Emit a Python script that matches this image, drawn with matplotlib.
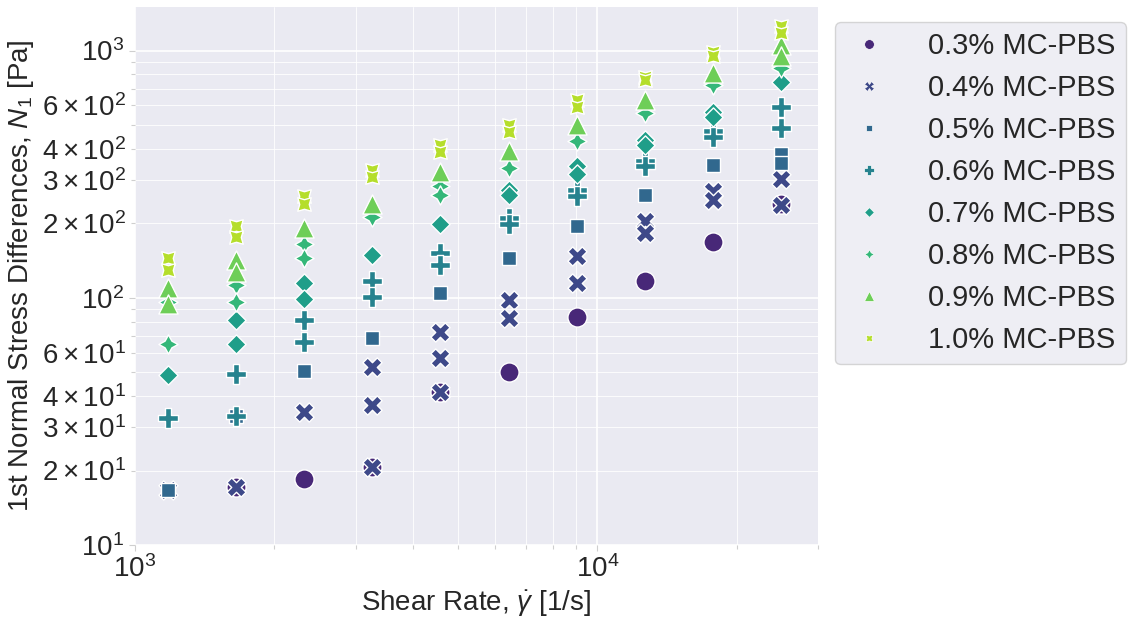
import numpy as np
import matplotlib
matplotlib.use("Agg")
import matplotlib.pyplot as plt
import matplotlib.ticker as mticker
from matplotlib.lines import Line2D
import seaborn as sns

# shear rates of the sweep [1/s]
shear_rate = [1180, 1655, 2320, 3255, 4570, 6430, 9020, 12700, 17800, 24900]

# N1 [Pa], one small list per shear rate (replicates)
n1_03 = [[], [17.2], [18.5], [20.6], [41.4], [49.9], [83.5], [117], [168], [240]]
n1_04 = [[16.7], [17.2], [34.5], [52.5, 36.8, 20.6], [72.8, 56.9, 41.4],
         [97.8, 83], [147, 115], [204, 182], [270, 249], [303, 238]]
n1_05 = [[16.7], [33.2], [50.5], [68.5], [105], [145], [194.5], [261], [345], [380, 350]]
n1_06 = [[32.6], [49.1, 33.2], [81.6, 66.4], [117, 101], [152, 136],
         [211, 198], [274, 257], [357, 340], [471, 448], [592, 487]]
n1_07 = [[48.7], [81.6, 64.9], [115, 98.4], [148.6], [199.6],
         [274, 261], [340, 318], [434, 413], [564, 537], [745]]
n1_08 = [[96, 64.9], [113, 96], [165, 145], [213], [283, 261],
         [334], [430], [558], [722], [849]]
n1_09 = [[110, 94.6], [142.6, 127], [191], [240], [323],
         [393], [502], [632], [809], [1050, 953]]
n1_10 = [[145, 129], [194.5, 176], [257, 240], [328, 307], [413, 387],
         [500, 470], [632, 592], [780, 760], [984, 953], [1259, 1179]]

labels = ["0.3% MC-PBS", "0.4% MC-PBS", "0.5% MC-PBS", "0.6% MC-PBS",
          "0.7% MC-PBS", "0.8% MC-PBS", "0.9% MC-PBS", "1.0% MC-PBS"]
series = [n1_03, n1_04, n1_05, n1_06, n1_07, n1_08, n1_09, n1_10]

sns.set_style("darkgrid")
plt.rcParams["font.family"] = ["Liberation Sans", "DejaVu Sans"]
plt.rcParams["mathtext.fontset"] = "custom"
plt.rcParams["mathtext.rm"] = "Liberation Sans"
plt.rcParams["mathtext.it"] = "Liberation Sans:italic"
plt.rcParams["mathtext.bf"] = "Liberation Sans:bold"

# seaborn default marker cycle
markers = ["o", "X", (4, 0, 45), "P", (4, 0, 0), (4, 1, 0), "^", (4, 1, 45)]
colors = plt.cm.viridis(np.linspace(0, 1, len(labels) + 2)[1:-1])

fig = plt.figure(figsize=(11.33, 6.33), dpi=100)
ax = fig.add_axes([0.119, 0.139, 0.603, 0.850])

for vals, lab, mk, col in zip(series, labels, markers, colors):
    xs, ys = [], []
    for rate, reps in zip(shear_rate, vals):
        for v in reps:
            xs.append(rate)
            ys.append(v)
    ax.scatter(xs, ys, s=190, marker=mk, color=col, edgecolor="white",
               linewidth=1.0, label=lab, zorder=3)

ax.set_xscale("log")
ax.set_yscale("log")
ax.set_xlim(1000, 30000)
ax.set_ylim(10, 1500)

ax.yaxis.set_minor_formatter(
    mticker.LogFormatterSciNotation(labelOnlyBase=False, minor_thresholds=(3, 0.4)))
ax.xaxis.set_minor_formatter(mticker.NullFormatter())

ax.grid(which="major", color="white", linewidth=1.2)
ax.grid(which="minor", color="white", linewidth=0.6)
ax.tick_params(which="both", labelsize=20, color="#cfcfcf", width=0.8,
               bottom=True, left=True)
ax.tick_params(which="major", length=4)
ax.tick_params(which="minor", length=3)
for sp in ax.spines.values():
    sp.set_visible(False)

ax.set_xlabel(r"Shear Rate, $\dot{\gamma}$ [1/s]", fontsize=20)
ax.set_ylabel(r"1st Normal Stress Differences, $N_1$ [Pa]", fontsize=20)

handles = [Line2D([], [], linestyle="", marker=mk, color=col, markersize=7,
                  markeredgecolor="white", markeredgewidth=0.5)
           for mk, col in zip(markers, colors)]
leg = ax.legend(handles, labels, loc="upper left",
                bbox_to_anchor=(835 / 1133, 1 - 22 / 633),
                bbox_transform=fig.transFigure, borderaxespad=0,
                fontsize=21, handlelength=1.6, handletextpad=1.25,
                labelspacing=0.48, borderpad=0.35,
                frameon=True, facecolor="#EAEAF2", edgecolor="#cccccc")

fig.savefig("out.png", dpi=100)
